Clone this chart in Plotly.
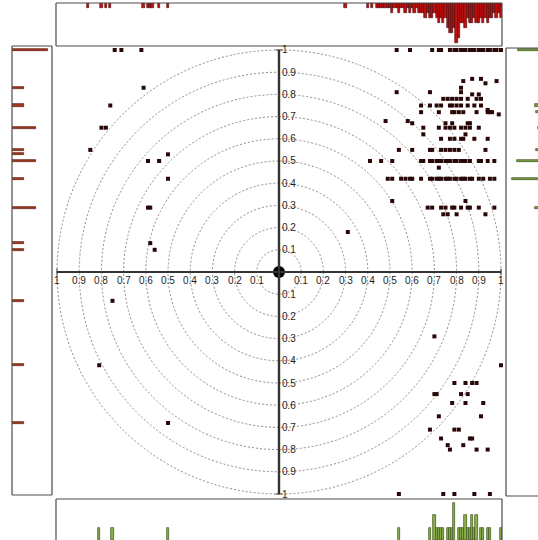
import plotly.graph_objects as go

# ---------------- data ----------------
pts_x = [
    -0.74, -0.71, -0.62, 0.53, 0.59, 0.69, 0.72, 0.73, 0.77, 0.79, 0.80, 0.82, 0.83, 0.84, 0.86, 0.87, 0.88, 0.90, 0.91, 0.92, 0.94, 0.95, 0.97, 0.98, 1.00,
    0.83, 0.87, 0.91, 0.93, 0.98, 0.82, -0.61,
    0.53, 0.68, 0.82, 0.87, 0.90,
    0.74, 0.76, 0.78, 0.80, 0.82, 0.85, 0.89, 0.91,
    0.64, 0.68, 0.71, 0.73, 0.77, 0.78, 0.80, 0.82, 0.85, 0.88, 0.91, -0.76,
    0.94, 0.95, 0.96, 0.99,
    0.64, 0.72, 0.78, 0.79, 0.81, 0.83, 0.89, 0.94,
    0.48, 0.58, 0.60, 0.65,
    0.75, 0.78, 0.85, 0.86,
    0.72, 0.75, 0.77, 0.79, 0.82, 0.84, 0.86, 0.90, -0.80, -0.78,
    0.65, 0.84,
    0.73, 0.77, 0.79, 0.82, 0.83, 0.88, 0.94,
    0.54, 0.60, 0.68, 0.69, 0.73, 0.75, 0.77, 0.79, 0.81, 0.93, -0.85, -0.50,
    0.41, 0.46, 0.51, 0.64, 0.65, 0.68, 0.69, 0.71, 0.72, 0.73, 0.75, 0.76, 0.77, 0.79, 0.80, 0.82, 0.83, 0.84, 0.86, 0.90, 0.91, 0.94, 0.97, -0.59, -0.54,
    0.72,
    0.49, 0.51, 0.55, 0.57, 0.59, 0.60, 0.64, 0.68, 0.69, 0.71, 0.72, 0.73, 0.75, 0.76, 0.77, 0.79, 0.80, 0.82, 0.83, 0.84, 0.86, 0.87, 0.90, 0.92, 0.95, 0.97, -0.50,
    0.51, 0.84,
    0.67, 0.69, 0.73, 0.75, 0.78, 0.79, 0.82, 0.85, 0.86, 0.90, 0.97, -0.59, -0.58,
    0.74, 0.76, 0.80, 0.93,
    0.31, -0.58, -0.56,
    -0.75, -0.81, -0.50, 0.70, 1.00,
    0.79, 0.84, 0.87, 0.89,
    0.70, 0.71, 0.82, 0.85,
    0.78, 0.84, 0.92,
    0.72, 0.91,
    0.68, 0.79, 0.81,
    0.73, 0.86, 0.87,
    0.76, 0.83,
    0.77, 0.89, 0.94,
    0.54, 0.74, 0.79, 0.88, 0.95,
]
pts_y = (
    [1.00] * 25
    + [0.86, 0.87, 0.87, 0.85, 0.86, 0.83, 0.83]
    + [0.81, 0.81, 0.81, 0.80, 0.80]
    + [0.78] * 8
    + [0.75] * 12
    + [0.73, 0.72, 0.72, 0.71]
    + [0.72] * 8
    + [0.68, 0.68, 0.67, 0.65]
    + [0.67] * 4
    + [0.65] * 10
    + [0.62] * 2
    + [0.60] * 7
    + [0.55] * 11 + [0.53]
    + [0.50] * 25
    + [0.47]
    + [0.42] * 27
    + [0.32, 0.32]
    + [0.29] * 13
    + [0.26] * 4
    + [0.18, 0.13, 0.10]
    + [-0.13, -0.42, -0.68, -0.29, -0.42]
    + [-0.50] * 4
    + [-0.55] * 4
    + [-0.59] * 3
    + [-0.65] * 2
    + [-0.71] * 3
    + [-0.75] * 3
    + [-0.78] * 2
    + [-0.80] * 3
    + [-1.00] * 5
)

# top marginal histogram (x of upper points), bin width 0.01
top_hist_x = [-0.86, -0.80, -0.78, -0.76, -0.61, -0.59, -0.58, -0.57, -0.54, -0.50, 0.30,
              0.40, 0.41, 0.42, 0.43, 0.44, 0.45, 0.46, 0.47, 0.48, 0.49, 0.50, 0.51, 0.52, 0.53, 0.54,
              0.55, 0.56, 0.57, 0.58, 0.59, 0.60, 0.61, 0.62, 0.63, 0.64, 0.65, 0.66, 0.67, 0.68, 0.69,
              0.70, 0.71, 0.72, 0.73, 0.74, 0.75, 0.76, 0.77, 0.78, 0.79, 0.80, 0.81, 0.82, 0.83, 0.84,
              0.85, 0.86, 0.87, 0.88, 0.89, 0.90, 0.91, 0.92, 0.93, 0.94, 0.95, 0.96, 0.97, 0.98, 0.99, 1.00]
top_hist_count = [1, 1, 1, 1, 1, 1, 1, 1, 1, 1, 1,
                  1, 0, 1, 0, 1, 1, 1, 1, 1, 1, 1, 2, 1, 1, 2,
                  1, 1, 2, 1, 2, 1, 2, 1, 2, 2, 2, 3, 2, 3, 3,
                  2, 3, 4, 3, 4, 3, 5, 6, 6, 5, 8, 7, 4, 4, 5,
                  3, 4, 4, 3, 4, 4, 3, 4, 3, 4, 3, 3, 2, 3, 2, 3]

ring_radii = [0.1, 0.2, 0.3, 0.4, 0.5, 0.6, 0.7, 0.8, 0.9, 1.0]
tick_values = [0.1, 0.2, 0.3, 0.4, 0.5, 0.6, 0.7, 0.8, 0.9, 1.0]
tick_labels = ["0.1", "0.2", "0.3", "0.4", "0.5", "0.6", "0.7", "0.8", "0.9", "1"]

# derived subsets for the marginal histograms
left_vals = [y for x, y in zip(pts_x, pts_y) if x < 0]
right_vals = [y for x, y in zip(pts_x, pts_y) if x > 0]
bottom_vals = [x for x, y in zip(pts_x, pts_y) if y < 0]

# ---------------- geometry ----------------
W, H = 538, 540
CX, CY, R = 279, 272, 222


def fx(p):
    return p / W


def fy(p):
    return 1 - p / H


def ax(domain, rng):
    return dict(domain=domain, range=rng, showgrid=False, zeroline=False,
                showticklabels=False, ticks="", showline=False, fixedrange=True)


fig = go.Figure()

# points and center dot
fig.add_trace(go.Scatter(x=pts_x, y=pts_y, mode="markers", xaxis="x", yaxis="y",
                         marker=dict(symbol="square", size=4, color="#2a0707", line=dict(width=0)),
                         hoverinfo="skip"))
fig.add_trace(go.Scatter(x=[0], y=[0], mode="markers", xaxis="x", yaxis="y",
                         marker=dict(symbol="circle", size=12, color="#000000"), hoverinfo="skip"))

# top histogram
fig.add_trace(go.Bar(x=top_hist_x, y=top_hist_count, width=0.01, xaxis="x2", yaxis="y2",
                     marker=dict(color="#c01010", line=dict(color="#4a0000", width=0.6))))
# bottom histogram
fig.add_trace(go.Histogram(x=bottom_vals, xbins=dict(start=-1.005, end=1.015, size=0.01),
                           xaxis="x3", yaxis="y3",
                           marker=dict(color="#8db04c", line=dict(color="#3a5518", width=0.7))))
# left histogram
fig.add_trace(go.Histogram(y=left_vals, ybins=dict(start=-1.005, end=1.015, size=0.01),
                           xaxis="x4", yaxis="y4",
                           marker=dict(color="#a5381f", line=dict(color="#5a1a0f", width=0.7))))
# right histogram
fig.add_trace(go.Histogram(y=right_vals, ybins=dict(start=-1.005, end=1.015, size=0.01),
                           xaxis="x5", yaxis="y5",
                           marker=dict(color="#7a9a45", line=dict(color="#3a5518", width=0.7))))

shapes = []
for r in ring_radii:
    shapes.append(dict(type="circle", xref="x", yref="y", x0=-r, x1=r, y0=-r, y1=r,
                       line=dict(color="#7e7e7e", width=0.9, dash="2px,2px"), layer="below"))
axis_col = "#333333"
shapes.append(dict(type="line", xref="x", yref="y", x0=-1, x1=1, y0=0, y1=0,
                   line=dict(color=axis_col, width=2)))
shapes.append(dict(type="line", xref="x", yref="y", x0=0, x1=0, y0=-1, y1=1,
                   line=dict(color=axis_col, width=2.4)))
for s in (-1, 1):
    shapes.append(dict(type="line", xref="x", yref="y", x0=s, x1=s, y0=-0.015, y1=0.015,
                       line=dict(color=axis_col, width=1)))
    shapes.append(dict(type="line", xref="x", yref="y", x0=-0.015, x1=0.015, y0=s, y1=s,
                       line=dict(color=axis_col, width=1)))

frame = dict(color="#4a4a4a", width=1.2)


def seg(x0, y0, x1, y1):
    shapes.append(dict(type="line", xref="paper", yref="paper", x0=fx(x0), x1=fx(x1),
                       y0=fy(y0), y1=fy(y1), line=frame))


# top panel frame
seg(56, 3, 502, 3); seg(56, 46, 502, 46); seg(56, 3, 56, 46); seg(502, 3, 502, 46)
# left panel frame
seg(12, 46, 52, 46); seg(12, 495, 52, 495); seg(12, 46, 12, 495); seg(52, 46, 52, 495)
# bottom panel frame (bottom edge out of view)
seg(56, 499, 502, 499); seg(56, 499, 56, 541); seg(502, 499, 502, 541)
# right panel frame (right edge out of view)
seg(506, 48, 540, 48); seg(506, 496, 540, 496); seg(506, 48, 506, 496)

annotations = []
lab_font = dict(family="Liberation Sans, Arial, sans-serif", size=10, color="#1e1e1e")
for v, t in zip(tick_values, tick_labels):
    for s in (-1, 1):
        # vertical axis labels
        annotations.append(dict(x=0, y=s * v, xref="x", yref="y", text=t, showarrow=False,
                                xanchor="left", yanchor="middle", xshift=1, font=lab_font))
        # horizontal axis labels
        annotations.append(dict(x=s * v, y=0, xref="x", yref="y", text=t, showarrow=False,
                                xanchor="center", yanchor="top", yshift=-1, font=lab_font))

main_x = [-(CX - 52) / R, (506 - CX) / R]
main_y = [-(498 - CY) / R, (CY - 46) / R]
panel_x = [(56 - CX) / R, (502 - CX) / R]

fig.update_layout(
    width=W, height=H, margin=dict(l=0, r=0, t=0, b=0),
    paper_bgcolor="white", plot_bgcolor="rgba(0,0,0,0)", showlegend=False,
    bargap=0, barmode="overlay",
    xaxis=dict(ax([fx(52), fx(506)], main_x), anchor="y"),
    yaxis=dict(ax([fy(498), fy(46)], main_y), anchor="x"),
    xaxis2=dict(ax([fx(56), fx(502)], panel_x), anchor="y2"),
    yaxis2=dict(ax([fy(46), fy(3)], [8.6, 0]), anchor="x2"),
    xaxis3=dict(ax([fx(56), fx(502)], panel_x), anchor="y3"),
    yaxis3=dict(ax([0, fy(499)], [0, 3.33]), anchor="x3"),
    xaxis4=dict(ax([fx(12), fx(52)], [0, 3.33]), anchor="y4"),
    yaxis4=dict(ax([fy(495), fy(46)], [-(495 - CY) / R, (CY - 46) / R]), anchor="x4"),
    xaxis5=dict(ax([fx(506), 1], [30.0, 8.67]), anchor="y5"),
    yaxis5=dict(ax([fy(496), fy(48)], [-(496 - CY) / R, (CY - 48) / R]), anchor="x5"),
    shapes=shapes, annotations=annotations,
)

fig.write_html("out.html")
